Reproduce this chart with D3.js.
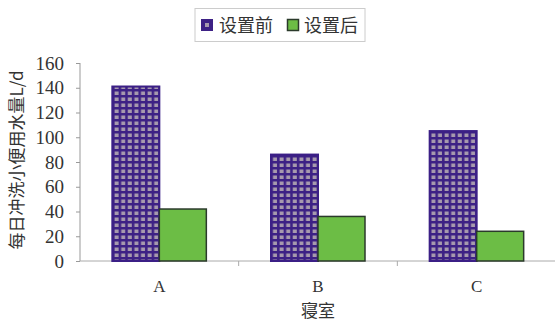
<!DOCTYPE html>
<html><head><meta charset="utf-8">
<script src="https://cdn.jsdelivr.net/npm/d3@7"></script>
<style>body{margin:0;background:#fff}svg{display:block}</style>
</head><body>
<script>
const categories = ["A","B","C"];
const seriesNames = ["设置前","设置后"];
const before = [141, 86, 105];
const after = [42, 36, 24];
const yTicks = [0,20,40,60,80,100,120,140,160];
const xTitle = "寝室";
const yTitle = "每日冲洗小便用水量L/d";

const W=555,H=322;
const svg=d3.select("body").append("svg").attr("width",W).attr("height",H);
const defs=svg.append("defs");
const pat=defs.append("pattern").attr("id","grid").attr("patternUnits","userSpaceOnUse")
  .attr("width",6.6).attr("height",6).attr("x",113).attr("y",0);
pat.append("rect").attr("width",6.6).attr("height",6).attr("fill","#3d2185");
pat.append("rect").attr("x",1.6).attr("y",1.5).attr("width",4).attr("height",3.5).attr("fill","#a79aae");

const x0=d3.scaleBand().domain(categories).range([80,556]);
const x1=d3.scaleBand().domain(seriesNames).range([0,94]);
const y=d3.scaleLinear().domain([0,160]).range([261,63]);
const serif="'Liberation Serif','DejaVu Serif',serif";
const cjk="'Noto Sans CJK SC',sans-serif";

// axes
const ya=svg.append("g").attr("transform","translate(80,0)")
  .call(d3.axisLeft(y).tickValues(yTicks).tickSize(4).tickPadding(12));
ya.attr("font-family",null).attr("font-size",null);
ya.select(".domain").attr("stroke","#999").attr("d","M0,63V261");
ya.selectAll(".tick line").attr("stroke","#999");
ya.selectAll(".tick text").style("font-family",serif).style("font-size","19px").attr("fill","#333");

const xa=svg.append("g").attr("transform","translate(0,261)");
xa.append("line").attr("x1",80).attr("x2",555).attr("stroke","#aaa");
categories.forEach((c,i)=>{
  if(i>0) xa.append("line").attr("x1",x0(c)).attr("x2",x0(c)).attr("y1",0).attr("y2",5).attr("stroke","#aaa");
  xa.append("text").attr("x",x0(c)+x0.bandwidth()/2).attr("y",31).attr("text-anchor","middle")
    .style("font-family",serif).style("font-size","17px").attr("fill","#333").text(c);
});

// bars
const vals=[before,after];
categories.forEach((c,i)=>{
  const cx=x0(c)+x0.bandwidth()/2-47;
  seriesNames.forEach((s,j)=>{
    const v=vals[j][i];
    const r=svg.append("rect").attr("x",cx+x1(s)).attr("y",y(v)).attr("width",x1.bandwidth()).attr("height",y(0)-y(v));
    if(j===0) r.attr("fill","url(#grid)").attr("stroke","#3b1f86").attr("stroke-width",2);
    else r.attr("fill","#6cbd45").attr("stroke","#2b3a2b").attr("stroke-width",1.5);
  });
});

// titles
svg.append("text").attr("x",318).attr("y",317).attr("text-anchor","middle")
  .style("font-family",cjk).style("font-size","17px").attr("fill","#333").text(xTitle);
svg.append("text").attr("transform","translate(23,160) rotate(-90)").attr("text-anchor","middle")
  .style("font-family",cjk).style("font-size","17px").attr("fill","#333").text(yTitle);

// legend
const lg=svg.append("g");
lg.append("rect").attr("x",195).attr("y",8.5).attr("width",170).attr("height",33).attr("fill","#fff").attr("stroke","#ccc");
lg.append("rect").attr("x",201).attr("y",19).attr("width",12).attr("height",12).attr("fill","#3d2185");
lg.append("rect").attr("x",205).attr("y",23).attr("width",4).attr("height",4).attr("fill","#a79aae");
lg.append("text").attr("x",219).attr("y",32).style("font-family",cjk).style("font-size","18px").attr("fill","#333").text(seriesNames[0]);
lg.append("rect").attr("x",287.5).attr("y",19.5).attr("width",11).attr("height",11).attr("fill","#6cbd45").attr("stroke","#2b3a2b").attr("stroke-width",1.5);
lg.append("text").attr("x",304).attr("y",32).style("font-family",cjk).style("font-size","18px").attr("fill","#333").text(seriesNames[1]);
</script>
</body></html>
